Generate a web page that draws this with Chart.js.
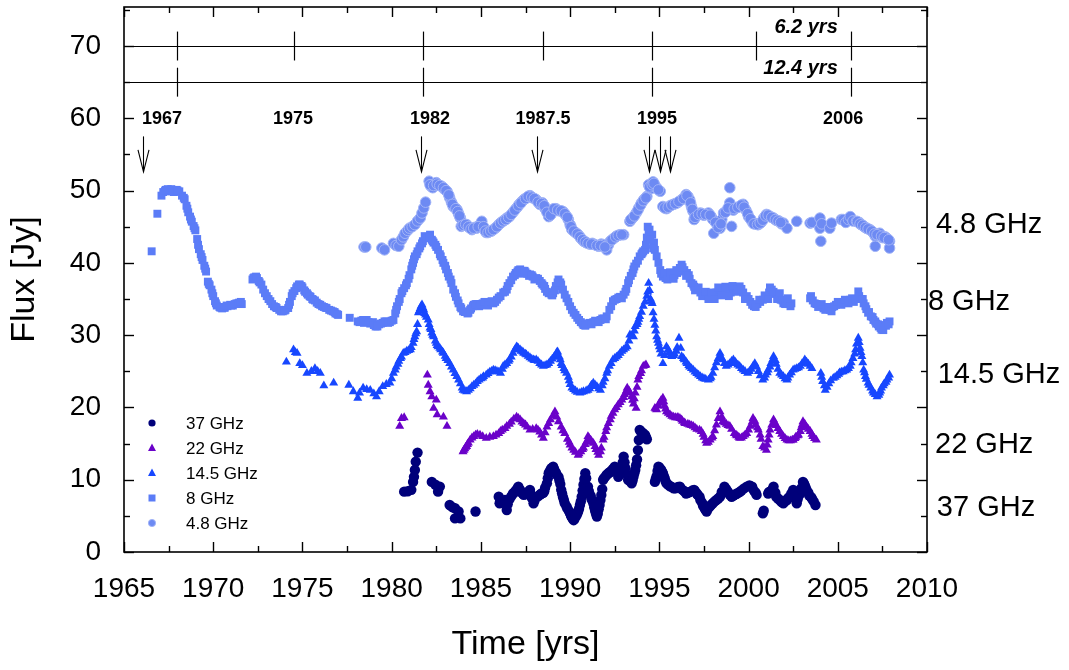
<!DOCTYPE html>
<html>
<head>
<meta charset="utf-8">
<script src="https://cdn.jsdelivr.net/npm/chart.js@4.4.1/dist/chart.umd.min.js"></script>
<style>
  html, body { margin: 0; padding: 0; background: #fff; }
  #wrap { width: 1069px; height: 670px; }
</style>
</head>
<body>
<div id="wrap"><canvas id="c" width="1069" height="670"></canvas></div>
<script>
// ---- Light curves: [year, flux density in Jy] ----
const flux48 = [
  [1978.45,42.2],[1978.55,42.2],[1979.45,42.05],[1979.6,41.8],[1980.1,42.7],[1980.25,42.4],[1980.4,42.3],
  [1980.55,43.2],[1980.65,43.6],[1980.75,44.1],[1980.9,44.5],[1981.0,44.8],[1981.15,45.0],[1981.3,45.3],
  [1981.45,45.8],[1981.6,46.2],[1981.7,46.9],[1981.8,47.6],[1981.9,48.4],[1982.1,51.3],[1982.2,50.6],
  [1982.3,50.4],[1982.4,50.9],[1982.5,51.1],[1982.65,50.7],[1982.8,50.6],[1982.95,50.2],[1983.1,49.9],
  [1983.25,49.0],[1983.35,48.4],[1983.45,47.8],[1983.55,47.6],[1983.65,47.4],[1983.75,46.8],[1983.85,46.2],
  [1983.9,45.05],[1984.05,45.2],[1984.2,45.3],[1984.35,44.9],[1984.5,44.6],[1984.65,44.9],[1984.75,44.8],
  [1984.9,45.2],[1985.05,45.75],[1985.2,44.6],[1985.3,44.2],[1985.45,44.3],[1985.6,44.4],[1985.8,44.8],
  [1986.0,45.3],[1986.15,45.6],[1986.3,45.9],[1986.45,46.2],[1986.6,46.4],[1986.8,47.0],[1987.0,47.6],
  [1987.15,48.1],[1987.3,48.5],[1987.4,48.75],[1987.55,49.0],[1987.75,49.3],[1987.9,49.0],[1988.1,48.75],
  [1988.3,48.1],[1988.45,48.3],[1988.6,47.5],[1988.8,46.4],[1988.95,46.8],[1989.05,47.4],[1989.2,47.5],
  [1989.4,47.2],[1989.6,47.1],[1989.75,46.6],[1989.9,46.0],[1990.0,45.3],[1990.1,44.6],[1990.3,44.2],
  [1990.45,43.9],[1990.6,43.4],[1990.75,43.0],[1990.9,42.8],[1991.1,42.6],[1991.25,42.7],[1991.4,42.5],
  [1991.6,42.3],[1991.75,42.6],[1991.85,42.5],[1992.05,41.8],[1992.15,42.5],[1992.25,43.0],[1992.45,43.4],
  [1992.6,43.7],[1992.8,43.9],[1993.0,43.9],[1993.35,45.75],[1993.5,46.2],[1993.7,46.9],[1993.85,47.6],
  [1994.0,48.3],[1994.15,48.8],[1994.3,49.2],[1994.4,50.8],[1994.55,50.3],[1994.65,51.2],[1994.75,50.7],
  [1994.85,50.4],[1995.05,49.9],[1995.2,47.8],[1995.4,47.5],[1995.6,47.9],[1995.8,48.1],[1996.0,48.3],
  [1996.25,48.75],[1996.4,49.0],[1996.5,49.45],[1996.6,49.2],[1996.7,48.75],[1996.8,47.8],[1996.9,47.1],
  [1996.95,46.0],[1997.1,46.5],[1997.3,46.9],[1997.5,46.6],[1997.75,46.9],[1997.9,46.4],[1998.0,46.0],
  [1998.05,44.1],[1998.25,45.2],[1998.4,44.8],[1998.5,46.0],[1998.6,46.9],[1998.8,47.2],[1998.95,48.3],
  [1998.95,50.4],[1999.05,45.05],[1999.15,47.3],[1999.3,47.6],[1999.5,47.8],[1999.7,48.1],[1999.85,47.3],
  [2000.0,46.4],[2000.15,45.9],[2000.25,45.5],[2000.4,45.4],[2000.55,45.3],[2000.7,45.6],[2000.85,46.2],
  [2001.0,46.7],[2001.2,46.4],[2001.4,46.2],[2001.55,45.9],[2001.7,45.8],[2001.85,45.4],[2001.95,45.5],
  [2002.15,44.8],[2002.7,45.75],[2003.45,45.5],[2003.55,45.6],[2004.0,46.2],[2004.0,44.8],[2004.05,43.0],
  [2004.1,45.4],[2004.55,44.8],[2004.65,45.5],[2005.2,46.0],[2005.3,46.0],[2005.45,45.6],[2005.6,46.0],
  [2005.7,46.4],[2005.85,45.8],[2006.05,45.75],[2006.2,45.6],[2006.3,45.3],[2006.45,45.05],[2006.6,44.8],
  [2006.8,44.6],[2006.95,44.3],[2007.1,43.7],[2007.1,42.3],[2007.25,44.0],[2007.35,44.1],[2007.5,43.5],
  [2007.65,43.6],[2007.75,43.4],[2007.9,43.0],[2007.9,42.05],
  [1982.15,50.8],[1982.35,50.7],[1982.55,50.9],[1982.7,50.7],[1982.9,50.4],[1983.05,50.0],[1983.2,49.4],
  [1983.4,48.1],[1983.6,47.5],[1983.7,47.1],[1983.8,46.5],[1984.0,45.2],[1984.15,45.3],[1984.3,45.0],
  [1984.45,44.7],[1984.6,44.8],[1984.85,45.0],[1985.15,45.0],[1985.25,44.4],[1985.4,44.2],[1985.55,44.4],
  [1985.7,44.6],[1985.9,45.0],[1986.1,45.5],[1986.25,45.8],[1986.4,46.0],[1986.55,46.3],[1986.7,46.7],
  [1986.9,47.3],[1987.1,47.9],[1987.25,48.3],[1987.5,48.9],[1987.65,49.2],[1987.85,49.1],[1988.0,48.9],
  [1988.2,48.4],[1988.4,48.2],[1988.55,47.9],[1988.7,47.0],[1988.9,46.6],[1989.1,47.5],[1989.3,47.3],
  [1989.5,47.2],[1989.7,46.8],[1989.85,46.3],[1990.05,45.0],[1990.2,44.4],[1990.4,44.0],[1990.55,43.6],
  [1990.7,43.2],[1990.85,42.9],[1991.0,42.7],[1991.2,42.6],[1991.5,42.4],[1991.7,42.4],[1991.95,42.2],
  [1992.35,43.2],[1992.55,43.6],[1992.7,43.8],[1992.9,43.9],[1993.4,46.0],[1993.6,46.5],[1993.8,47.3],
  [1993.95,48.0],[1994.1,48.6],[1994.25,49.0],[1994.45,50.5],[1994.6,50.8],[1994.7,51.0],[1994.95,50.1],
  [1995.3,47.6],[1995.5,47.7],[1995.7,48.0],[1995.9,48.2],[1996.1,48.5],[1996.35,48.9],[1996.55,49.3],
  [1996.75,48.3],[1996.85,47.4],[1997.0,46.3],[1997.2,46.7],[1997.4,46.8],[1997.6,46.7],[1997.85,46.6],
  [1998.15,45.6],[1998.3,44.9],[1998.45,45.4],[1998.7,47.0],[1998.85,47.6],[1999.2,47.5],[1999.4,47.7],
  [1999.6,48.0],[1999.75,47.7],[1999.95,46.8],[2000.1,46.1],[2000.3,45.4],[2000.5,45.3],[2000.65,45.5],
  [2000.8,45.9],[2000.95,46.5],[2001.1,46.6],[2001.3,46.3],[2001.5,46.0],[2001.65,45.8],[2001.8,45.6],
  [2006.1,45.7],[2006.25,45.4],[2006.4,45.2],[2006.55,44.9],[2006.7,44.7],[2006.9,44.4],[2007.05,44.0],
  [2007.2,43.9],[2007.45,43.7],[2007.6,43.5],[2007.85,43.2]
];

const flux8 = [
  [1966.55,41.6],[1966.87,46.8],[1967.1,49.3],[1967.2,49.8],[1967.35,50.1],[1967.5,49.9],[1967.65,50.2],
  [1967.8,49.8],[1967.95,50.1],[1968.1,49.9],[1968.25,49.3],[1968.4,48.8],[1968.5,47.9],[1968.6,47.0],
  [1968.7,46.4],[1968.8,45.7],[1968.9,45.1],[1969.0,44.5],[1969.1,43.3],[1969.2,41.9],[1969.3,41.2],
  [1969.4,40.4],[1969.5,39.6],[1969.6,38.8],[1969.7,37.4],[1969.8,36.9],[1969.9,36.3],[1970.0,35.4],
  [1970.1,34.7],[1970.2,34.1],[1970.35,33.9],[1970.5,33.7],[1970.65,33.8],[1970.8,34.0],[1970.95,34.2],
  [1971.1,34.1],[1971.3,34.4],[1971.45,34.5],[1971.6,34.3],
  [1972.2,37.7],[1972.3,38.0],[1972.45,37.9],[1972.6,37.3],[1972.7,37.0],[1972.8,36.3],[1973.0,35.4],
  [1973.2,34.7],[1973.4,34.0],[1973.55,33.75],[1973.7,33.5],[1973.9,33.3],[1974.05,33.5],[1974.2,33.75],
  [1974.3,34.6],[1974.4,35.4],[1974.55,36.1],[1974.7,36.75],[1974.85,37.0],[1975.0,36.6],[1975.15,36.0],
  [1975.3,35.6],[1975.45,35.3],[1975.6,34.9],[1975.8,34.5],[1976.0,34.2],[1976.2,33.9],[1976.35,33.75],
  [1976.5,33.5],[1976.7,33.3],[1976.85,33.0],[1977.0,32.8],[1977.65,32.4],[1978.1,31.9],[1978.3,32.0],
  [1978.45,31.7],[1978.6,32.1],[1978.8,31.6],[1978.95,31.8],[1979.1,31.2],[1979.3,31.5],[1979.5,31.7],
  [1979.7,31.9],[1979.9,31.8],[1980.1,32.1],[1980.2,33.0],[1980.3,34.0],[1980.45,35.0],[1980.55,35.8],
  [1980.7,36.5],[1980.85,37.2],[1981.0,38.3],[1981.1,39.1],[1981.2,40.0],[1981.3,40.9],[1981.45,41.6],
  [1981.6,42.3],[1981.75,43.0],[1981.85,43.7],[1982.0,43.6],[1982.15,43.9],[1982.25,43.2],[1982.35,42.8],
  [1982.5,42.2],[1982.6,41.8],[1982.75,40.9],[1982.9,40.0],[1983.05,39.1],[1983.2,38.1],[1983.35,37.2],
  [1983.45,36.3],[1983.6,35.3],[1983.75,34.4],[1983.9,33.7],[1984.0,33.3],[1984.15,33.2],[1984.3,33.1],
  [1984.45,33.7],[1984.6,34.2],[1984.8,34.3],[1984.95,34.1],[1985.1,34.4],[1985.3,34.2],[1985.5,34.5],
  [1985.7,34.4],[1985.9,34.9],[1986.1,35.4],[1986.25,35.9],[1986.45,36.3],[1986.6,37.2],[1986.8,38.1],
  [1986.95,38.6],[1987.1,39.0],[1987.2,39.1],[1987.35,38.9],[1987.5,38.7],[1987.6,38.5],[1987.75,38.4],
  [1987.9,38.1],[1988.1,37.9],[1988.3,37.5],[1988.45,37.0],[1988.6,36.4],[1988.8,35.8],[1988.95,35.6],
  [1989.05,35.8],[1989.2,36.8],[1989.35,37.7],[1989.5,37.0],[1989.6,36.3],[1989.8,35.1],[1990.0,34.0],
  [1990.2,33.1],[1990.4,32.4],[1990.6,31.8],[1990.75,31.4],[1990.9,31.5],[1991.1,31.7],[1991.3,31.8],
  [1991.5,31.9],[1991.7,32.1],[1991.9,32.3],[1992.05,32.6],[1992.2,33.5],[1992.4,34.7],[1992.6,35.0],
  [1992.8,35.3],[1993.0,35.6],[1993.15,36.4],[1993.25,37.2],[1993.4,38.2],[1993.55,39.1],[1993.7,39.9],
  [1993.9,40.9],[1994.05,41.4],[1994.2,41.8],[1994.3,43.5],[1994.35,45.0],[1994.45,44.6],[1994.6,43.9],
  [1994.7,42.8],[1994.75,41.8],[1994.85,40.9],[1994.95,40.0],[1995.05,39.0],[1995.2,38.1],[1995.35,37.9],
  [1995.5,38.3],[1995.7,38.1],[1995.85,38.3],[1996.0,38.6],[1996.15,39.3],[1996.25,39.75],[1996.4,39.0],
  [1996.55,38.6],[1996.7,37.8],[1996.8,37.2],[1996.95,36.7],[1997.1,36.3],[1997.3,35.9],[1997.5,35.6],
  [1997.65,35.4],[1997.8,35.7],[1998.0,35.4],[1998.2,35.9],[1998.4,36.3],[1998.6,35.8],[1998.8,36.3],
  [1999.0,35.9],[1999.15,36.3],[1999.3,36.0],[1999.5,36.75],[1999.7,35.9],[1999.9,35.4],[2000.1,34.6],
  [2000.3,34.0],[2000.5,34.3],[2000.65,34.6],[2000.8,34.9],[2001.0,35.3],[2001.15,35.9],[2001.3,36.3],
  [2001.5,35.7],[2001.65,35.4],[2001.8,34.9],[2001.95,34.4],[2002.1,34.8],[2002.25,34.3],[2002.4,34.4],
  [2003.45,35.1],[2003.6,34.8],[2003.8,34.3],[2004.0,34.0],[2004.2,33.7],[2004.4,33.6],[2004.55,33.5],
  [2004.7,33.9],[2004.9,34.2],[2005.1,34.4],[2005.3,34.5],[2005.5,34.7],[2005.7,34.9],[2005.9,34.6],
  [2006.15,36.05],[2006.3,35.0],[2006.45,34.4],[2006.6,33.6],[2006.7,33.1],[2006.85,32.6],[2007.0,32.1],
  [2007.15,31.6],[2007.3,31.2],[2007.45,30.75],[2007.6,31.4],[2007.75,31.7],[2007.9,31.9],
  [1967.3,50.0],[1967.45,50.2],[1967.7,49.9],[1968.0,50.0],[1968.35,49.0],[1968.55,47.5],[1968.75,46.0],
  [1968.95,44.8],[1969.15,42.5],[1969.35,40.8],[1969.55,39.2],[1969.75,37.1],[1969.95,35.8],[1970.15,34.4],
  [1970.4,33.8],[1970.6,33.8],[1970.75,34.1],[1971.0,34.1],[1971.2,34.3],[1971.4,34.4],[1971.55,34.6],
  [1972.25,37.9],[1972.4,38.1],[1972.55,37.5],[1972.9,35.8],[1973.1,35.0],[1973.3,34.3],[1973.5,33.9],
  [1973.8,33.3],[1974.0,33.4],[1974.25,34.2],[1974.45,35.8],[1974.65,36.5],[1974.8,37.0],[1974.95,36.8],
  [1975.1,36.2],[1975.25,35.8],[1975.4,35.4],[1975.55,35.0],[1975.7,34.8],[1975.9,34.3],[1976.1,34.0],
  [1976.3,33.8],[1976.6,33.4],[1976.8,33.2],[1976.95,32.9],[1978.2,31.8],[1978.4,32.1],[1978.7,31.8],
  [1979.0,31.4],[1979.2,31.2],[1979.4,31.6],[1979.6,31.9],[1979.8,31.7],[1980.0,32.0],
  [1980.25,33.5],[1980.4,34.6],[1980.6,36.1],[1980.8,36.9],[1980.95,37.8],[1981.15,39.6],[1981.25,40.5],
  [1981.4,41.2],[1981.55,42.0],[1981.7,42.7],[1981.95,43.4],[1982.1,43.5],[1982.3,43.0],[1982.45,42.5],
  [1982.7,41.2],[1982.85,40.4],[1983.0,39.6],[1983.15,38.6],[1983.3,37.7],[1983.55,35.8],[1983.7,34.8],
  [1983.85,33.9],[1984.1,33.2],[1984.25,33.0],[1984.4,33.5],[1984.55,34.0],[1984.7,34.3],[1984.9,34.0],
  [1985.0,34.3],[1985.2,34.6],[1985.4,34.1],[1985.6,34.7],[1985.8,34.6],[1986.0,35.2],[1986.35,36.0],
  [1986.5,36.8],[1986.7,37.6],[1986.9,38.3],[1987.05,38.8],[1987.3,38.5],[1987.45,38.9],[1987.7,38.2],
  [1987.85,38.3],[1988.0,37.7],[1988.2,37.8],[1988.4,37.2],[1988.55,36.8],[1988.7,36.0],[1989.0,35.5],
  [1989.15,36.2],[1989.3,37.3],[1989.45,37.3],[1989.7,35.6],[1989.9,34.6],[1990.1,33.5],[1990.3,32.8],
  [1990.5,32.1],[1990.7,31.6],[1990.85,31.3],[1991.0,31.6],[1991.2,31.5],[1991.4,32.0],[1991.6,31.8],
  [1991.8,32.3],[1992.0,32.2],[1992.3,34.0],[1992.5,34.9],[1992.7,35.2],[1992.9,35.1],[1993.1,36.0],
  [1993.3,37.6],[1993.5,38.6],[1993.6,39.5],[1993.8,40.3],[1994.0,41.2],[1994.1,41.6],
  [1994.25,42.5],[1994.4,44.0],[1994.5,43.2],[1994.65,42.0],[1995.1,38.5],[1995.3,38.6],[1995.45,37.7],
  [1995.6,38.7],[1995.8,37.8],[1995.95,39.0],[1996.1,38.8],[1996.3,39.4],[1996.5,38.2],[1996.65,38.3],
  [1996.9,37.0],[1997.0,36.2],[1997.2,36.6],[1997.4,35.4],[1997.6,36.0],[1997.75,35.0],[1997.9,35.9],
  [1998.1,35.0],[1998.3,36.6],[1998.5,35.5],[1998.7,36.7],[1998.9,35.4],[1999.1,36.8],[1999.4,36.3],
  [1999.6,36.4],[1999.8,35.0],[2000.0,35.0],[2000.2,34.2],[2000.4,33.9],[2000.6,34.9],[2000.9,35.5],
  [2001.1,35.0],[2001.2,36.6],[2001.4,36.0],[2001.6,35.0],[2001.75,35.8],[2001.9,34.8],[2002.05,34.3],
  [2002.2,35.1],[2002.35,34.0],[2003.5,35.4],[2003.7,34.4],[2003.9,33.9],[2004.1,34.3],[2004.3,33.5],
  [2004.5,33.9],[2004.65,33.3],[2004.8,34.0],[2005.0,34.6],[2005.2,34.2],[2005.4,34.9],[2005.6,34.4],
  [2005.8,35.1],[2006.0,35.0],[2006.2,35.4],[2006.4,35.0],[2006.55,34.0],[2006.75,33.2],[2006.95,32.5],
  [2007.1,31.9],[2007.25,31.5],[2007.4,31.0],[2007.55,30.7],[2007.7,31.3],[2007.85,31.5]
];

const flux145 = [
  [1974.1,26.3],[1974.5,28.0],[1974.6,27.6],[1974.7,27.5],[1974.85,26.1],[1975.0,25.8],[1975.25,24.75],
  [1975.5,25.0],[1975.7,25.4],[1975.85,25.0],[1976.0,24.75],[1976.2,23.0],[1976.75,23.4],[1977.6,23.1],
  [1977.85,22.2],[1978.1,21.3],[1978.2,22.0],[1978.4,22.7],[1978.6,22.5],[1978.8,22.4],[1979.0,21.9],
  [1979.15,21.5],[1979.3,22.2],[1979.5,22.9],[1979.7,23.2],[1979.9,23.4],[1980.0,24.0],[1980.1,24.75],
  [1980.25,25.6],[1980.4,26.4],[1980.55,27.0],[1980.65,27.5],[1980.85,27.8],[1981.05,28.0],[1981.2,28.9],
  [1981.3,29.8],[1981.4,30.5],[1981.5,33.1],[1981.6,33.7],[1981.7,34.2],[1981.8,33.5],[1981.9,32.8],
  [1982.05,32.1],[1982.15,31.0],[1982.25,30.3],[1982.35,29.8],[1982.5,28.9],[1982.6,28.4],[1982.75,28.0],
  [1982.9,27.5],[1983.05,26.8],[1983.25,26.1],[1983.45,25.2],[1983.65,24.3],[1983.85,23.3],[1984.0,22.4],
  [1984.2,22.2],[1984.4,22.6],[1984.6,23.1],[1984.8,23.6],[1985.0,24.0],[1985.15,24.3],[1985.3,24.5],
  [1985.5,24.9],[1985.7,25.2],[1985.9,25.0],[1986.1,24.75],[1986.25,25.7],[1986.45,26.1],[1986.6,26.6],
  [1986.8,27.5],[1987.0,28.4],[1987.1,28.2],[1987.25,27.8],[1987.4,27.5],[1987.55,27.3],[1987.75,26.9],
  [1987.95,26.6],[1988.1,26.6],[1988.3,26.1],[1988.5,25.7],[1988.7,25.9],[1988.9,26.4],[1989.1,27.0],
  [1989.3,27.7],[1989.4,27.0],[1989.5,26.1],[1989.65,25.4],[1989.8,24.75],[1989.95,23.7],[1990.1,22.7],
  [1990.3,22.3],[1990.55,22.0],[1990.75,22.2],[1991.0,22.4],[1991.15,22.9],[1991.3,23.4],[1991.5,22.9],
  [1991.7,22.4],[1991.85,23.5],[1992.05,24.75],[1992.2,25.7],[1992.4,26.6],[1992.6,27.0],[1992.8,27.5],
  [1993.0,28.0],[1993.2,28.4],[1993.35,30.05],[1993.55,29.8],[1993.65,31.2],[1993.8,31.8],[1993.9,32.6],
  [1994.1,34.0],[1994.3,35.4],[1994.4,37.2],[1994.5,35.0],[1994.6,34.4],[1994.65,33.1],[1994.75,31.4],
  [1994.85,29.8],[1994.95,28.9],[1995.05,28.0],[1995.2,26.1],[1995.4,28.4],[1995.55,27.6],[1995.7,27.05],
  [1995.85,27.4],[1996.0,28.3],[1996.1,29.6],[1996.25,27.05],[1996.4,26.6],[1996.55,26.1],[1996.7,25.6],
  [1996.9,25.2],[1997.1,24.7],[1997.3,24.3],[1997.5,24.0],[1997.75,23.8],[1997.9,24.2],[1998.0,24.75],
  [1998.2,26.2],[1998.4,27.5],[1998.55,26.6],[1998.75,25.7],[1998.95,26.1],[1999.15,26.6],[1999.3,26.1],
  [1999.5,25.7],[1999.7,25.2],[1999.95,24.75],[2000.15,25.3],[2000.35,26.1],[2000.55,25.0],[2000.8,23.8],
  [2000.95,24.5],[2001.1,25.2],[2001.25,26.1],[2001.4,27.05],[2001.55,26.0],[2001.75,24.75],[2001.95,24.3],
  [2002.15,23.8],[2002.3,24.5],[2002.5,25.2],[2002.7,25.4],[2002.9,25.7],[2003.15,26.6],[2003.35,26.0],
  [2003.55,25.4],[2004.05,24.75],[2004.15,23.6],[2004.3,22.4],[2004.5,23.3],[2004.75,24.05],[2004.95,24.4],
  [2005.1,24.8],[2005.3,24.95],[2005.5,25.2],[2005.7,25.7],[2005.85,26.8],[2006.0,28.0],[2006.15,29.6],
  [2006.25,28.2],[2006.35,27.05],[2006.45,25.2],[2006.55,24.3],[2006.7,23.4],[2006.85,22.7],[2007.0,22.0],
  [2007.2,21.5],[2007.35,22.0],[2007.45,22.7],[2007.6,23.3],[2007.75,23.8],[2007.9,24.5],
  [1980.2,25.2],[1980.35,26.0],[1980.5,26.8],[1980.75,27.6],[1980.95,27.9],[1981.1,28.3],[1981.25,29.4],
  [1981.35,30.2],[1981.45,31.5],[1981.55,33.4],[1981.65,34.0],[1981.75,33.8],[1981.85,33.0],[1981.95,32.5],
  [1982.1,31.5],[1982.2,30.8],[1982.3,30.0],[1982.45,29.2],[1982.55,28.6],[1982.7,28.2],[1982.85,27.7],
  [1983.0,27.1],[1983.15,26.5],[1983.35,25.6],[1983.55,24.7],[1983.75,23.8],[1983.95,22.7],[1984.1,22.3],
  [1984.3,22.4],[1984.5,22.9],[1984.7,23.3],[1984.9,23.8],[1985.1,24.1],[1985.4,24.7],[1985.6,25.0],
  [1985.8,25.1],[1986.0,24.9],[1986.2,25.3],[1986.35,25.9],[1986.55,26.4],[1986.7,27.0],[1986.9,28.0],
  [1987.05,28.3],[1987.2,28.0],[1987.35,27.7],[1987.5,27.4],[1987.65,27.1],[1987.85,26.7],[1988.0,26.5],
  [1988.2,26.4],[1988.4,25.9],[1988.6,25.8],[1988.8,26.1],[1989.0,26.7],[1989.2,27.3],[1989.25,27.6],
  [1989.45,26.6],[1989.55,25.8],[1989.7,25.1],[1989.9,24.2],[1990.0,23.2],[1990.2,22.5],[1990.4,22.1],
  [1990.65,22.1],[1990.9,22.3],[1991.1,22.6],[1991.2,23.1],[1991.4,23.1],[1991.6,22.6],[1991.8,23.0],
  [1991.95,24.0],[1992.1,25.1],[1992.3,26.1],[1992.5,26.8],[1992.7,27.2],[1992.9,27.8],[1993.1,28.2],
  [1993.3,29.2],[1993.45,29.9],[1993.6,30.6],[1993.75,31.5],[1993.85,32.2],[1994.0,33.2],[1994.2,34.6],
  [1994.35,36.0],[1994.45,36.2],[1994.55,34.7],[1994.7,32.2],[1994.8,30.6],[1994.9,29.3],[1995.0,28.4],
  [1995.1,27.4],[1995.3,27.2],[1995.5,28.0],[1995.65,27.3],[1995.8,27.2],[1995.95,27.8],[1996.2,28.2],
  [1996.35,26.8],[1996.5,26.3],[1996.65,25.8],[1996.8,25.4],[1997.0,24.9],[1997.2,24.5],[1997.4,24.1],
  [1997.6,23.9],[1997.85,24.0],[1998.1,25.5],[1998.3,26.8],[1998.45,27.0],[1998.65,26.1],[1998.85,25.9],
  [1999.05,26.4],[1999.25,26.3],[1999.4,25.9],[1999.6,25.4],[1999.8,25.0],[2000.05,25.0],[2000.25,25.7],
  [2000.45,25.6],[2000.65,24.4],[2000.9,24.1],[2001.05,24.8],[2001.2,25.6],[2001.35,26.6],[2001.5,26.5],
  [2001.65,25.3],[2001.85,24.5],[2002.05,24.0],[2002.2,24.1],[2002.4,24.8],[2002.6,25.3],[2002.8,25.5],
  [2003.0,26.1],[2003.25,26.3],[2003.45,25.7],[2004.1,24.2],[2004.25,23.0],[2004.4,22.8],[2004.6,23.7],
  [2004.85,24.2],[2005.05,24.6],[2005.2,24.9],[2005.4,25.1],[2005.6,25.4],[2005.75,26.2],[2005.95,27.4],
  [2006.05,28.8],[2006.2,29.0],[2006.3,27.6],[2006.4,26.2],[2006.5,24.8],[2006.6,23.9],[2006.75,23.1],
  [2006.95,22.3],[2007.1,21.8],[2007.3,21.7],[2007.4,22.3],[2007.55,23.0],[2007.7,23.5],[2007.85,24.1]
];

const flux22 = [
  [1980.45,17.4],[1980.55,18.5],[1980.7,18.6],[1982.0,24.5],[1982.05,23.1],[1982.15,22.2],[1982.25,21.5],
  [1982.35,19.9],[1982.5,21.05],[1982.55,19.0],[1982.9,18.7],[1983.1,17.4],[1984.0,13.9],[1984.1,14.3],
  [1984.2,14.6],[1984.3,15.1],[1984.4,15.5],[1984.6,16.0],[1984.8,16.3],[1984.95,16.2],[1985.3,15.75],
  [1985.7,16.0],[1986.0,16.4],[1986.2,16.9],[1986.45,17.4],[1986.7,18.0],[1987.0,18.7],[1987.2,18.3],
  [1987.4,17.8],[1987.5,17.6],[1987.75,16.9],[1988.1,17.1],[1988.3,16.6],[1988.5,15.75],[1988.7,17.3],
  [1988.9,18.3],[1989.15,19.4],[1989.35,18.05],[1989.5,17.3],[1989.7,16.4],[1989.85,15.6],[1990.0,14.8],
  [1990.2,14.1],[1990.45,13.4],[1990.6,13.9],[1990.75,14.4],[1990.9,15.2],[1991.0,16.0],[1991.15,15.5],
  [1991.3,15.05],[1991.45,14.2],[1991.6,13.4],[1991.75,14.4],[1991.85,15.5],[1992.0,16.7],[1992.15,17.8],
  [1992.3,18.8],[1992.5,19.7],[1992.7,20.4],[1992.9,21.05],[1993.05,21.8],[1993.2,22.7],[1993.35,22.0],
  [1993.45,21.5],[1993.55,20.5],[1993.65,22.0],[1993.7,19.9],[1993.8,23.8],[1993.95,24.7],[1994.1,25.7],
  [1994.25,25.9],[1994.75,19.9],[1994.85,19.7],[1995.0,20.6],[1995.2,21.3],[1995.3,20.2],[1995.4,19.4],
  [1995.6,19.0],[1995.8,18.7],[1996.0,18.6],[1996.15,18.5],[1996.3,18.1],[1996.45,17.8],[1996.7,17.6],
  [1996.9,17.4],[1997.1,17.0],[1997.35,16.7],[1997.5,15.9],[1997.65,15.05],[1997.85,15.5],[1998.0,16.0],
  [1998.2,17.6],[1998.4,19.4],[1998.55,18.05],[1998.75,17.7],[1998.95,17.4],[1999.2,16.4],[1999.35,16.1],
  [1999.5,15.75],[1999.7,16.0],[1999.9,16.4],[2000.1,17.4],[2000.25,18.5],[2000.4,17.6],[2000.55,16.9],
  [2000.7,15.6],[2000.8,14.6],[2001.0,14.1],[2001.1,15.5],[2001.2,16.9],[2001.4,18.3],[2001.55,17.5],
  [2001.75,16.7],[2001.95,16.0],[2002.15,15.5],[2002.35,15.4],[2002.5,15.5],[2002.65,15.9],[2002.8,16.2],
  [2002.95,17.2],[2003.05,18.05],[2003.25,17.3],[2003.45,16.7],[2003.6,16.0],[2003.8,15.5],
  [1984.05,14.1],[1984.15,14.5],[1984.25,14.9],[1984.5,15.8],[1984.7,16.2],[1985.1,16.0],[1985.5,15.9],
  [1985.85,16.2],[1986.1,16.7],[1986.35,17.1],[1986.6,17.7],[1986.85,18.4],[1987.1,18.5],[1987.3,18.0],
  [1987.6,17.3],[1987.9,17.0],[1988.2,16.9],[1988.4,16.2],[1988.6,16.5],[1988.8,17.8],[1989.05,18.9],
  [1989.25,18.7],[1989.6,16.8],[1989.95,15.2],[1990.1,14.4],[1990.3,13.8],[1990.5,13.6],[1990.7,14.2],
  [1990.85,14.9],[1991.05,15.8],[1991.2,15.3],[1991.4,14.6],[1991.55,13.8],[1991.7,13.9],[1991.9,15.9],
  [1992.05,17.2],[1992.25,18.3],[1992.4,19.2],[1992.6,20.0],[1992.8,20.7],[1993.0,21.4],[1993.15,22.3],
  [1993.3,22.3],[1993.5,21.0],[1993.6,21.2],[1993.75,22.8],[1993.85,24.3],[1994.0,25.1],[1994.2,25.8],
  [1994.8,19.8],[1994.95,20.2],[1995.1,21.0],[1995.25,20.8],[1995.35,19.8],[1995.5,19.2],[1995.7,18.8],
  [1995.9,18.6],[1996.05,18.6],[1996.25,18.3],[1996.4,17.9],[1996.6,17.7],[1996.8,17.5],[1997.0,17.2],
  [1997.25,16.9],[1997.45,16.3],[1997.6,15.4],[1997.75,15.2],[1997.95,15.8],[1998.1,16.8],[1998.3,18.5],
  [1998.5,18.7],[1998.65,17.9],[1998.85,17.5],[1999.05,17.0],[1999.3,16.2],[1999.45,15.9],[1999.6,15.8],
  [1999.8,16.2],[2000.0,16.9],[2000.2,18.0],[2000.35,18.1],[2000.5,17.2],[2000.65,16.2],[2000.9,14.4],
  [2001.05,14.8],[2001.15,16.2],[2001.3,17.6],[2001.45,18.0],[2001.65,17.1],[2001.85,16.3],[2002.05,15.7],
  [2002.25,15.4],[2002.45,15.5],[2002.6,15.7],[2002.75,16.1],[2002.9,16.7],[2003.0,17.6],[2003.15,17.7],
  [2003.35,17.0],[2003.55,16.3],[2003.7,15.7]
];

const flux37 = [
  [1980.7,8.35],[1980.9,8.4],[1981.1,8.6],[1981.2,9.7],[1981.25,10.4],[1981.3,11.35],[1981.35,12.5],
  [1981.45,13.75],[1982.25,9.7],[1982.45,9.3],[1982.6,8.35],[1982.7,9.05],[1983.25,6.5],[1983.4,6.2],
  [1983.55,6.05],[1983.55,4.65],[1983.75,5.6],[1983.85,4.65],[1984.7,5.6],[1986.0,7.65],[1986.05,6.75],
  [1986.2,7.0],[1986.35,7.2],[1986.45,5.8],[1986.6,7.3],[1986.8,8.1],[1986.95,8.5],[1987.1,9.05],
  [1987.25,8.3],[1987.4,7.9],[1987.6,8.2],[1987.75,8.6],[1987.85,7.5],[1987.95,6.75],[1988.1,7.6],
  [1988.3,7.9],[1988.4,8.1],[1988.55,8.4],[1988.7,9.5],[1988.8,10.9],[1988.9,11.35],[1989.05,11.8],
  [1989.2,11.0],[1989.35,10.4],[1989.45,9.4],[1989.5,8.6],[1989.6,7.6],[1989.7,6.75],[1989.85,6.0],
  [1990.0,5.35],[1990.1,4.8],[1990.2,4.4],[1990.35,5.0],[1990.45,5.6],[1990.55,6.5],[1990.65,7.65],
  [1990.75,9.3],[1990.85,10.9],[1991.0,9.05],[1991.15,7.8],[1991.3,6.75],[1991.4,5.7],[1991.5,4.9],
  [1991.6,5.9],[1991.7,7.2],[1991.8,8.7],[1991.85,10.0],[1992.0,10.5],[1992.15,10.9],[1992.3,11.2],
  [1992.5,11.8],[1992.7,10.4],[1992.85,11.6],[1993.0,13.2],[1993.1,11.6],[1993.25,10.0],[1993.45,9.5],
  [1993.55,10.4],[1993.65,11.35],[1993.75,12.8],[1993.8,14.1],[1993.9,16.9],[1994.05,16.5],[1994.2,16.2],
  [1994.3,15.6],[1994.75,9.7],[1994.85,10.5],[1994.95,11.8],[1995.1,11.4],[1995.2,10.9],[1995.3,10.2],
  [1995.4,9.5],[1995.6,9.1],[1995.8,8.8],[1996.0,8.9],[1996.15,9.05],[1996.3,8.6],[1996.5,8.1],
  [1996.7,8.3],[1996.95,8.6],[1997.1,8.1],[1997.25,7.65],[1997.4,6.8],[1997.55,6.0],[1997.65,5.6],
  [1997.8,6.2],[1998.0,6.75],[1998.2,7.2],[1998.4,7.65],[1998.65,9.05],[1998.85,8.3],[1999.05,7.65],
  [1999.2,7.9],[1999.35,8.1],[1999.6,8.5],[1999.9,9.05],[2000.05,9.2],[2000.2,9.05],[2000.45,7.9],
  [2000.8,5.35],[2000.85,5.7],[2001.1,8.1],[2001.25,8.4],[2001.4,9.05],[2001.55,7.65],[2001.75,7.2],
  [2001.95,6.75],[2002.15,7.2],[2002.3,7.65],[2002.5,8.6],[2002.7,6.75],[2002.85,7.9],[2003.05,9.7],
  [2003.15,9.2],[2003.25,8.6],[2003.4,7.8],[2003.55,7.4],[2003.75,6.5],
  [1986.1,7.2],[1986.25,6.8],[1986.5,6.6],[1986.7,7.7],[1986.9,8.3],[1987.05,8.8],[1987.2,8.6],
  [1987.35,8.1],[1987.5,8.0],[1987.7,8.4],[1987.8,8.0],[1988.0,7.1],[1988.2,7.7],[1988.35,8.0],
  [1988.5,8.2],[1988.6,8.9],[1988.75,10.2],[1988.85,11.1],[1988.95,11.6],[1989.1,11.5],[1989.25,10.7],
  [1989.4,9.9],[1989.55,8.1],[1989.65,7.2],[1989.8,6.3],[1989.95,5.6],[1990.05,5.0],[1990.15,4.6],
  [1990.25,4.6],[1990.4,5.3],[1990.5,6.0],[1990.6,7.0],[1990.7,8.5],[1990.8,10.1],[1990.9,10.2],
  [1991.05,8.4],[1991.2,7.3],[1991.35,6.2],[1991.45,5.3],[1991.55,5.3],[1991.65,6.5],[1991.75,7.9],
  [1991.9,10.2],[1992.05,10.7],[1992.2,11.0],[1992.4,11.5],[1992.6,11.1],[1992.75,10.8],[1992.95,12.4],
  [1993.05,12.4],[1993.2,10.7],[1993.35,9.8],[1993.5,9.9],[1993.6,10.9],[1993.7,12.0],[1993.85,15.5],
  [1993.95,16.7],[1994.1,16.4],[1994.25,15.9],[1994.8,10.1],[1994.9,11.2],[1995.0,11.7],[1995.15,11.1],
  [1995.25,10.5],[1995.35,9.8],[1995.5,9.3],[1995.7,9.0],[1995.9,8.8],[1996.05,9.0],[1996.2,8.8],
  [1996.4,8.4],[1996.6,8.2],[1996.85,8.5],[1997.0,8.4],[1997.15,7.9],[1997.3,7.2],[1997.45,6.4],
  [1997.6,5.8],[1997.7,5.9],[1997.9,6.5],[1998.1,7.0],[1998.3,7.4],[1998.5,8.3],[1998.75,8.7],
  [1998.95,7.9],[1999.15,7.8],[1999.3,8.0],[1999.5,8.3],[1999.75,8.8],[2000.1,9.1],[2000.3,8.5],
  [2000.4,8.2],[2001.15,8.3],[2001.35,8.7],[2001.5,8.2],[2001.65,7.4],[2001.85,6.9],[2002.05,7.0],
  [2002.2,7.4],[2002.4,8.1],[2002.6,7.6],[2002.75,7.3],[2002.95,8.8],[2003.1,9.5],[2003.2,8.9],
  [2003.35,8.2],[2003.5,7.6],[2003.65,7.0]
];

// ---- Axis ticks ----
const yearTicks = [1965, 1970, 1975, 1980, 1985, 1990, 1995, 2000, 2005, 2010];
const fluxTicks = [0, 10, 20, 30, 40, 50, 60, 70];

// ---- Outburst epochs and periodicity markers ----
const outburstLabels = ['1967', '1975', '1982', '1987.5', '1995', '2006'];
const outburstLabelYears = [1967.13, 1974.47, 1982.15, 1988.48, 1994.87, 2005.3];
const outburstArrowYears = [1966.06, 1981.64, 1988.14, 1994.42, 1995.04, 1995.6];
const period62Years = [1967.97, 1974.53, 1981.76, 1988.48, 1994.59, 2000.42, 2005.74];
const period124Years = [1967.97, 1981.76, 1994.59, 2005.74];
const periodLevels = [70, 65];
const periodNames = ['6.2 yrs', '12.4 yrs'];

// ---- Series ----
const seriesNames = ['4.8 GHz', '8 GHz', '14.5 GHz', '22 GHz', '37 GHz'];
const seriesLabelLevels = [45.3, 34.6, 24.5, 14.8, 6.1];
const seriesLabelYears = [2010.5, 2010.05, 2010.6, 2010.45, 2010.55];

const FONT = '"Liberation Sans", Arial, Helvetica, sans-serif';

const styles = [
  { pointStyle: 'circle',   pointRadius: 5.3, backgroundColor: '#6d8af3', borderColor: '#a2b4f7', borderWidth: 1 },
  { pointStyle: 'rect',     pointRadius: 5.6, backgroundColor: '#5b7cf7', borderColor: '#5b7cf7', borderWidth: 0 },
  { pointStyle: 'triangle', pointRadius: 5.2, backgroundColor: '#1747ff', borderColor: '#1747ff', borderWidth: 0 },
  { pointStyle: 'triangle', pointRadius: 5.2, backgroundColor: '#6a02c9', borderColor: '#6a02c9', borderWidth: 0 },
  { pointStyle: 'circle',   pointRadius: 5.2, backgroundColor: '#00007a', borderColor: '#00007a', borderWidth: 0 }
];
const seriesData = [flux48, flux8, flux145, flux22, flux37];

const datasets = seriesData.map((d, i) => Object.assign({
  label: seriesNames[i],
  data: d.map(p => ({ x: p[0], y: p[1] })),
  showLine: false
}, styles[i]));

function line(ctx, x1, y1, x2, y2) {
  ctx.beginPath(); ctx.moveTo(x1, y1); ctx.lineTo(x2, y2); ctx.stroke();
}

function marker(ctx, style, x, y, r, fill, stroke) {
  ctx.fillStyle = fill;
  ctx.beginPath();
  if (style === 'circle') {
    ctx.arc(x, y, r, 0, Math.PI * 2);
  } else if (style === 'rect') {
    ctx.rect(x - r, y - r, 2 * r, 2 * r);
  } else {
    ctx.moveTo(x, y - r * 1.1);
    ctx.lineTo(x + r, y + r * 0.75);
    ctx.lineTo(x - r, y + r * 0.75);
    ctx.closePath();
  }
  ctx.fill();
  if (stroke) { ctx.strokeStyle = stroke; ctx.lineWidth = 1; ctx.stroke(); }
}

// keep the plot box exactly where the scales were fitted
function noEdgePadding(s) {
  s.paddingTop = 0; s.paddingBottom = 0; s.paddingLeft = 0; s.paddingRight = 0;
}

const decorations = {
  id: 'decorations',
  afterDatasetsDraw(chart) {
    const { ctx, chartArea: a, scales: { x, y } } = chart;
    ctx.save();
    ctx.strokeStyle = '#000';
    ctx.fillStyle = '#000';

    // frame
    ctx.lineWidth = 1.6;
    ctx.strokeRect(a.left, a.top, a.right - a.left, a.bottom - a.top);

    // inward tick marks on all four sides
    ctx.lineWidth = 1.4;
    for (let v = x.min; v <= x.max + 1e-6; v += 2.5) {
      const px = Math.round(x.getPixelForValue(v)) + 0.5;
      const len = (v % 5 === 0) ? 10 : 6;
      line(ctx, px, a.bottom, px, a.bottom - len);
      line(ctx, px, a.top, px, a.top + len);
    }
    for (let v = 0; v <= y.max + 1e-6; v += 5) {
      const py = Math.round(y.getPixelForValue(v)) + 0.5;
      const len = (v % 10 === 0) ? 10 : 6;
      line(ctx, a.left, py, a.left + len, py);
      line(ctx, a.right, py, a.right - len, py);
    }

    // periodicity rulers
    ctx.lineWidth = 1.2;
    const rulers = [period62Years, period124Years];
    periodLevels.forEach((lev, k) => {
      const py = Math.round(y.getPixelForValue(lev)) + 0.5;
      line(ctx, a.left, py, a.right, py);
      rulers[k].forEach(yr => {
        const px = Math.round(x.getPixelForValue(yr)) + 0.5;
        line(ctx, px, y.getPixelForValue(lev + 2), px, y.getPixelForValue(lev - 2));
      });
    });
    ctx.font = 'italic bold 20px ' + FONT;
    ctx.textAlign = 'right';
    ctx.textBaseline = 'middle';
    ctx.fillText(periodNames[0], x.getPixelForValue(2005.0), y.getPixelForValue(72.6));
    ctx.fillText(periodNames[1], x.getPixelForValue(2005.0), y.getPixelForValue(66.9));

    // outburst epochs
    ctx.font = 'bold 18px ' + FONT;
    ctx.textAlign = 'center';
    outburstLabels.forEach((t, i) => {
      ctx.fillText(t, x.getPixelForValue(outburstLabelYears[i]), y.getPixelForValue(59.9));
    });
    ctx.lineWidth = 1.1;
    outburstArrowYears.forEach(yr => {
      const px = Math.round(x.getPixelForValue(yr)) + 0.5;
      const top = y.getPixelForValue(57.5);
      const tip = y.getPixelForValue(52.6);
      line(ctx, px, top, px, tip);
      ctx.beginPath();
      ctx.moveTo(px - 5.5, tip - 22);
      ctx.lineTo(px, tip);
      ctx.lineTo(px + 5.5, tip - 22);
      ctx.stroke();
    });

    // legend
    const legendRows = [4, 3, 2, 1, 0];
    ctx.font = '17px ' + FONT;
    ctx.textAlign = 'left';
    legendRows.forEach((si, row) => {
      const ly = 423 + row * 25;
      const st = styles[si];
      const r = st.pointStyle === 'rect' ? 3.5 : (st.pointStyle === 'triangle' ? 4 : 3.6);
      marker(ctx, st.pointStyle, 152, ly, r, st.backgroundColor,
             st.borderWidth ? st.borderColor : null);
      ctx.fillStyle = '#000';
      ctx.fillText(seriesNames[si], 186, ly + 1);
    });

    // frequency labels at the right
    ctx.font = '29px ' + FONT;
    ctx.textAlign = 'left';
    seriesNames.forEach((t, i) => {
      ctx.fillText(t, x.getPixelForValue(seriesLabelYears[i]), y.getPixelForValue(seriesLabelLevels[i]));
    });
    ctx.restore();
  }
};

Chart.defaults.font.family = FONT;
Chart.defaults.color = '#000';

new Chart(document.getElementById('c'), {
  type: 'scatter',
  data: { datasets },
  options: {
    responsive: false,
    animation: false,
    events: [],
    layout: { padding: { left: 0, right: 142, top: 7, bottom: 0 } },
    plugins: { legend: { display: false }, tooltip: { enabled: false } },
    scales: {
      x: {
        type: 'linear', min: 1965, max: 2010,
        afterBuildTicks: s => { s.ticks = yearTicks.map(v => ({ value: v })); },
        afterFit: s => { s.height = 118; noEdgePadding(s); },
        grid: { display: false, drawTicks: false },
        border: { display: false },
        ticks: { font: { size: 28 }, padding: 20, maxRotation: 0, callback: v => String(v) },
        title: { display: true, text: 'Time [yrs]', font: { size: 34 }, padding: { top: 0, bottom: 5 } }
      },
      y: {
        type: 'linear', min: 0, max: 75.4,
        afterBuildTicks: s => { s.ticks = fluxTicks.map(v => ({ value: v })); },
        afterFit: s => { s.width = 124; noEdgePadding(s); },
        grid: { display: false, drawTicks: false },
        border: { display: false },
        ticks: { font: { size: 28 }, padding: 23, callback: v => String(v) },
        title: { display: true, text: 'Flux [Jy]', font: { size: 34 }, padding: { top: 4, bottom: 0 } }
      }
    }
  },
  plugins: [decorations]
});
</script>
</body>
</html>
